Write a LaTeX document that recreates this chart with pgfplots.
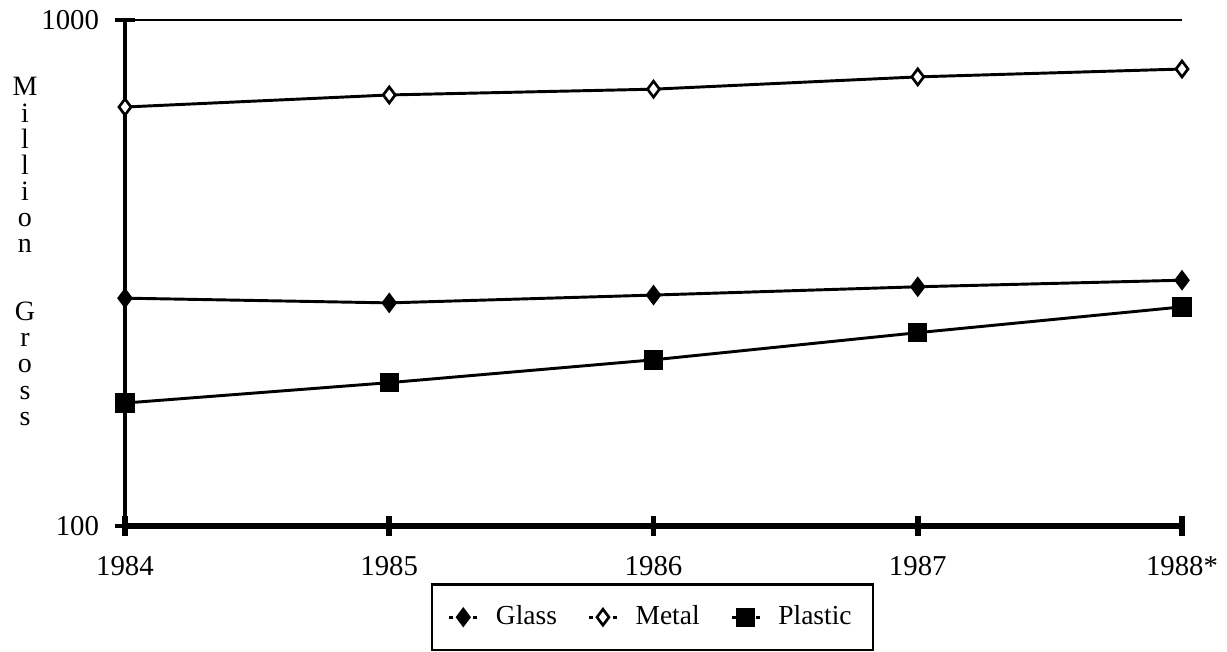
\documentclass[border=0pt]{standalone}
\usepackage{fontspec}
\setmainfont{Liberation Serif}
\usepackage{pgfplots}
\pgfplotsset{compat=1.18}
\begin{document}
\begin{tikzpicture}
\begin{axis}[
  name=ax,
  scale only axis, width=396.4pt, height=189.75pt,
  ymode=log, ymin=100, ymax=1000,
  xmin=1984, xmax=1988,
  xtick={1984,1985,1986,1987,1988}, xticklabels={1984,1985,1986,1987,1988*},
  ytick={100,1000}, yticklabels={100,1000},
  minor y tick style={draw=none},
  axis x line*=box, axis y line*=left,
  x axis line style={line width=1.1pt},
  y axis line style={line width=1.4pt},
  tick align=center, major tick length=7.5pt,
  xtick style={line width=2.2pt, black}, ytick style={line width=1.8pt, black},
  xtick pos=bottom, ytick pos=left,
  tick label style={font=\fontsize{10.8}{13}\selectfont},
  xticklabel style={yshift=-4pt},
  yticklabel style={xshift=-2.5pt},
  clip=false,
  legend style={at={(0.499,0)}, anchor=north, yshift=-21.4pt, draw=black, line width=1pt,
    legend columns=3, font=\fontsize{10.3}{12}\selectfont, inner xsep=6pt, inner ysep=6pt,
    /tikz/every odd column/.append style={column sep=4.5pt},
    /tikz/every even column/.append style={column sep=9.5pt}},
  legend image code/.code={\draw[mark repeat=2,mark phase=2,#1, line width=1pt, dash pattern=on 1.5pt off 1.5pt] plot coordinates {(0pt,0pt)(5.25pt,0pt)(10.5pt,0pt)};},
]
\addplot[black, line width=1.1pt, mark=diamond*, mark size=3pt, mark options={solid, fill=black}]
  coordinates {(1984,282)(1985,276)(1986,286)(1987,297)(1988,306)};
\addlegendentry{Glass}
\addplot[black, line width=1.1pt, mark=diamond*, mark size=3pt, mark options={solid, fill=white, line width=1pt}]
  coordinates {(1984,673)(1985,711)(1986,730)(1987,772)(1988,800)};
\addlegendentry{Metal}
\addplot[black, line width=1.1pt, mark=square*, mark size=3.1pt, mark options={solid, fill=black}]
  coordinates {(1984,175)(1985,192)(1986,213)(1987,241)(1988,271)};
\addlegendentry{Plastic}
\draw[line width=2.4pt] (rel axis cs:0,0) -- (rel axis cs:1,0);
\end{axis}
\node[anchor=north, align=center, inner sep=0pt, font=\fontsize{10.5}{9.8}\selectfont]
  at ([shift={(-37.5pt,-21.4pt)}]ax.north west) {M\\i\\l\\l\\i\\o\\n\\[15.7pt]G\\r\\o\\s\\s};
\pgfresetboundingbox
\path[use as bounding box] ([shift={(-46.875pt,-47.25pt)}]ax.south west) rectangle ([shift={(16.875pt,7.5pt)}]ax.north east);
\end{tikzpicture}
\end{document}
